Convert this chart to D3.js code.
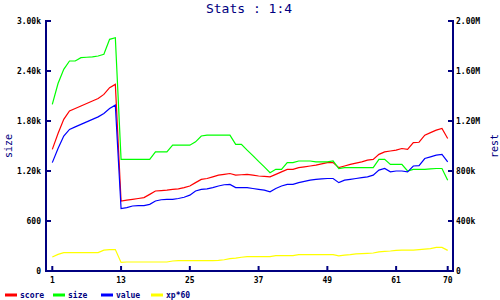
<!DOCTYPE html>
<html><head><meta charset="utf-8">
<script src="https://cdn.jsdelivr.net/npm/d3@7"></script>
<style>body{margin:0;background:#fff}svg{display:block}</style>
</head><body>
<svg id="c" width="500" height="300"></svg>
<script>
const title = "Stats : 1:4";
const xTicks = [1, 13, 25, 37, 49, 61, 70];
const leftTicks = [0, 600, 1200, 1800, 2400, 3000];
const leftTickLabels = ["0", "600", "1.20k", "1.80k", "2.40k", "3.00k"];
const rightTicks = [0, 400, 800, 1200, 1600, 2000];
const rightTickLabels = ["0", "400k", "800k", "1.20M", "1.60M", "2.00M"];
const seriesNames = ["score", "size", "value", "xp*60"];
const seriesColors = ["#ff0000", "#00ff00", "#0000ff", "#ffff00"];
// size: left axis (units)
const size = [2000,2250,2420,2520,2520,2560,2565,2570,2580,2600,2780,2800,1340,1340,1340,1340,1340,1340,1430,1430,
  1430,1510,1510,1510,1510,1550,1620,1630,1630,1630,1630,1630,1520,1520,1450,1385,1315,1250,1180,1220,
  1220,1300,1300,1320,1320,1320,1310,1310,1310,1320,1230,1240,1240,1240,1240,1240,1240,1340,1340,1280,
  1280,1280,1200,1220,1220,1220,1225,1230,1230,1090];
// rest axis (thousands)
const score = [973,1100,1213,1280,1300,1320,1340,1360,1380,1413,1467,1493,560,567,573,580,587,613,640,643,
  647,653,657,667,680,707,733,740,753,767,773,780,767,770,773,767,760,757,753,773,
  793,813,813,827,833,840,847,857,867,867,827,840,853,863,873,887,893,933,953,960,
  967,980,973,1027,1030,1087,1107,1127,1140,1060];
const value = [867,980,1080,1133,1153,1173,1193,1213,1233,1260,1300,1327,500,507,520,523,523,533,560,570,
  573,573,580,590,607,640,653,657,667,680,690,693,667,667,667,660,653,647,633,660,
  680,693,693,707,717,727,733,737,740,740,707,727,733,740,747,753,767,807,820,793,
  800,800,793,840,843,900,913,927,933,873];
const xp60 = [112,133,147,147,147,147,147,147,147,167,171,171,69,72,72,72,72,72,72,72,
  72,80,83,83,83,83,83,83,83,85,90,99,103,110,115,115,115,115,115,123,
  123,123,123,131,131,131,131,131,131,131,121,127,131,137,139,141,144,153,157,160,
  165,167,167,167,171,175,179,189,189,165];

const svg = d3.select("#c");
const navy = "#000080";
const font = "'DejaVu Sans Mono', monospace";
const axL = 46, axR = 453, plotTop = 21, plotBot = 271;
const x = d3.scaleLinear().domain([1, 70]).range([52.3, 447.7]);
const yL = d3.scaleLinear().domain([0, 3000]).range([plotBot, plotTop]);
const yR = d3.scaleLinear().domain([0, 2000]).range([plotBot, plotTop]);

svg.append("text").attr("x", 249).attr("y", 13).attr("text-anchor", "middle")
  .attr("font-family", font).attr("font-size", 13).attr("fill", navy).text(title);

const seriesData = [
  {vals: score, y: yR}, {vals: size, y: yL}, {vals: value, y: yR}, {vals: xp60, y: yR}
];
seriesData.forEach((s, k) => {
  const line = d3.line().x((d, i) => x(i + 1)).y(d => s.y(d));
  svg.append("path").attr("d", line(s.vals)).attr("fill", "none")
    .attr("stroke", seriesColors[k]).attr("stroke-width", 1.2);
});

const g = svg.append("g").attr("stroke", navy).attr("stroke-width", 2).attr("fill", "none");
g.append("line").attr("x1", axL).attr("x2", axL).attr("y1", plotTop - 1).attr("y2", plotBot + 1);
g.append("line").attr("x1", axR).attr("x2", axR).attr("y1", plotTop - 1).attr("y2", plotBot + 1);
g.append("line").attr("x1", axL).attr("x2", axR).attr("y1", plotBot).attr("y2", plotBot);
leftTicks.forEach(t => g.append("line").attr("x1", axL).attr("x2", axL + 5).attr("y1", yL(t)).attr("y2", yL(t)));
rightTicks.forEach(t => g.append("line").attr("x1", axR - 5).attr("x2", axR).attr("y1", yR(t)).attr("y2", yR(t)));
xTicks.forEach(t => g.append("line").attr("x1", x(t)).attr("x2", x(t)).attr("y1", plotBot - 5).attr("y2", plotBot));

const tl = svg.append("g").attr("font-family", font).attr("font-size", 8).attr("font-weight", "bold").attr("fill", "#000");
leftTicks.forEach((t, i) => tl.append("text").attr("x", 41).attr("y", yL(t) + 3).attr("text-anchor", "end").text(leftTickLabels[i]));
rightTicks.forEach((t, i) => tl.append("text").attr("x", 456).attr("y", yR(t) + 3).attr("text-anchor", "start").text(rightTickLabels[i]));
xTicks.forEach(t => tl.append("text").attr("x", x(t)).attr("y", 283).attr("text-anchor", "middle").text(t));

svg.append("text").attr("transform", "translate(12,146) rotate(-90)").attr("text-anchor", "middle")
  .attr("font-family", font).attr("font-size", 10).attr("fill", navy).text("size");
svg.append("text").attr("transform", "translate(498,146) rotate(-90)").attr("text-anchor", "middle")
  .attr("font-family", font).attr("font-size", 10).attr("fill", navy).text("rest");

const legX = [5, 53, 101, 151];
seriesNames.forEach((n, k) => {
  svg.append("line").attr("x1", legX[k]).attr("x2", legX[k] + 12).attr("y1", 295).attr("y2", 295)
    .attr("stroke", seriesColors[k]).attr("stroke-width", 3);
  svg.append("text").attr("x", legX[k] + 15).attr("y", 298).attr("font-family", font)
    .attr("font-size", 8).attr("font-weight", "bold").attr("fill", navy).text(n);
});
</script>
</body></html>
